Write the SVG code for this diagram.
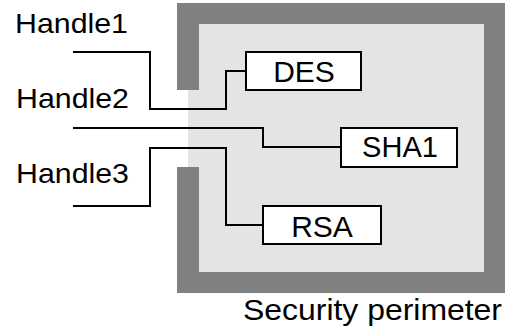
<svg xmlns="http://www.w3.org/2000/svg" width="510" height="330" viewBox="0 0 510 330">
  <style>
    .wall { fill: #808080; }
    .inner { fill: #e4e4e4; }
    .box { fill: #ffffff; stroke: #000000; stroke-width: 2; }
    .wire { fill: none; stroke: #000000; stroke-width: 2; }
    .lbl { font-family: "Liberation Sans", Arial, sans-serif; fill: #000000; }
    .handle { font-size: 28px; }
    .algo { font-size: 30px; text-anchor: middle; }
  </style>
  <rect width="510" height="330" fill="#ffffff"/>

  <!-- Security perimeter: shaded interior with a wall that has an opening on the left -->
  <g id="perimeter">
    <rect class="inner" x="188" y="24" width="296" height="248"/>
    <rect class="wall" x="177" y="3" width="328" height="21"/>
    <rect class="wall" x="484" y="3" width="21" height="290"/>
    <rect class="wall" x="177" y="272" width="328" height="21"/>
    <rect class="wall" x="177" y="3" width="22" height="87"/>
    <rect class="wall" x="177" y="167" width="22" height="126"/>
    <text class="lbl" x="243" y="320" font-size="30" textLength="259" lengthAdjust="spacingAndGlyphs">Security perimeter</text>
  </g>

  <!-- Connectors from handles to algorithms -->
  <g id="connectors">
    <polyline class="wire" points="73,52 150,52 150,109 226,109 226,71 246,71"/>
    <polyline class="wire" points="73,128 263,128 263,147 341,147"/>
    <polyline class="wire" points="73,206 150,206 150,148 226,148 226,225 263,225"/>
  </g>

  <g id="handle1">
    <text class="lbl handle" x="15" y="33" textLength="113" lengthAdjust="spacingAndGlyphs">Handle1</text>
  </g>
  <g id="handle2">
    <text class="lbl handle" x="16" y="108" textLength="113" lengthAdjust="spacingAndGlyphs">Handle2</text>
  </g>
  <g id="handle3">
    <text class="lbl handle" x="16" y="183" textLength="113" lengthAdjust="spacingAndGlyphs">Handle3</text>
  </g>

  <g id="des">
    <rect class="box" x="246" y="52" width="115" height="38"/>
    <text class="lbl algo" x="304" y="82">DES</text>
  </g>
  <g id="sha1">
    <rect class="box" x="341" y="128" width="116" height="39"/>
    <text class="lbl algo" x="400" y="157" style="font-size:29px">SHA1</text>
  </g>
  <g id="rsa">
    <rect class="box" x="263" y="206" width="118" height="38"/>
    <text class="lbl algo" x="322" y="237">RSA</text>
  </g>
</svg>
